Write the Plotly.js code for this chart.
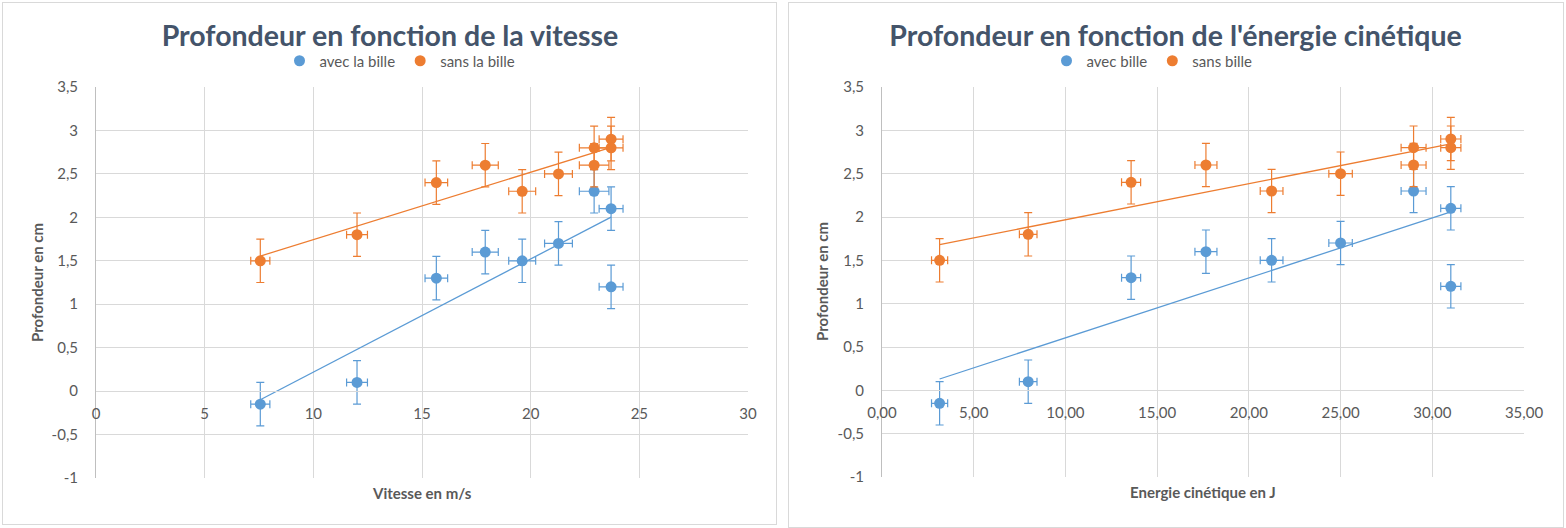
<!DOCTYPE html>
<html>
<head>
<meta charset="utf-8">
<script src="https://cdn.plot.ly/plotly-3.0.1.min.js"></script>
<style>
  html, body { margin: 0; padding: 0; background: #ffffff; width: 1566px; height: 528px; overflow: hidden; }
  .plot { position: absolute; top: 0; height: 528px; }
  .frame { position: absolute; border: 1px solid #d9d9d9; box-sizing: border-box; pointer-events: none; z-index: 5; }
</style>
</head>
<body>
<div id="chartV" class="plot" style="left:0px; width:780px;"></div>
<div id="chartE" class="plot" style="left:785px; width:781px;"></div>
<div class="frame" style="left:2px; top:2px; width:775px; height:523px;"></div>
<div class="frame" style="left:788px; top:2px; width:776px; height:526px;"></div>
<script>
// ---------- data ----------
const titleV = "Profondeur en fonction de la vitesse";
const titleE = "Profondeur en fonction de l'énergie cinétique";
const xTitleV = "Vitesse en m/s";
const xTitleE = "Energie cinétique en J";
const yTitle = "Profondeur en cm";
const namesV = ["avec la bille", "sans la bille"];
const namesE = ["avec bille", "sans bille"];

// vitesse (m/s)
const vitesseAvec = [7.56, 12.01, 15.66, 17.91, 19.61, 21.28, 22.92, 23.70, 23.70];
const vitesseSans = [7.56, 12.01, 15.66, 17.91, 19.61, 21.28, 22.92, 22.92, 23.70, 23.70];
// énergie cinétique (J)
const energieAvec = [3.14, 7.97, 13.58, 17.66, 21.24, 25.00, 28.98, 31.01, 31.01];
const energieSans = [3.14, 7.97, 13.58, 17.66, 21.24, 25.00, 28.98, 28.98, 31.01, 31.01];
// profondeur (cm)
const profAvec = [-0.15, 0.1, 1.3, 1.6, 1.5, 1.7, 2.3, 2.1, 1.2];
const profSans = [1.5, 1.8, 2.4, 2.6, 2.3, 2.5, 2.8, 2.6, 2.9, 2.8];
// incertitudes
const errXAvec = [0.44, 0.48, 0.52, 0.60, 0.62, 0.64, 0.68, 0.55, 0.55];
const errXSans = [0.44, 0.48, 0.52, 0.60, 0.62, 0.64, 0.68, 0.68, 0.55, 0.55];
const errYAvec = [0.25, 0.25, 0.25, 0.25, 0.25, 0.25, 0.25, 0.25, 0.25];
const errYSans = [0.25, 0.25, 0.25, 0.25, 0.25, 0.25, 0.25, 0.25, 0.25, 0.25];

// ticks
const yTickVals = [-1, -0.5, 0, 0.5, 1, 1.5, 2, 2.5, 3, 3.5];
const yTickText = ["-1", "-0,5", "0", "0,5", "1", "1,5", "2", "2,5", "3", "3,5"];
const xTickValsV = [0, 5, 10, 15, 20, 25, 30];
const xTickTextV = ["0", "5", "10", "15", "20", "25", "30"];
const xTickValsE = [0, 5, 10, 15, 20, 25, 30, 35];
const xTickTextE = ["0,00", "5,00", "10,00", "15,00", "20,00", "25,00", "30,00", "35,00"];

// ---------- styling ----------
const BLUE = "#5B9BD5";
const ORANGE = "#ED7D31";
const FONT = "Lato, 'Open Sans', 'DejaVu Sans', sans-serif";
const TXT = "#595959";

function linFit(xs, ys) {
  const n = xs.length;
  const mx = xs.reduce((a, b) => a + b, 0) / n;
  const my = ys.reduce((a, b) => a + b, 0) / n;
  let sxy = 0, sxx = 0;
  for (let i = 0; i < n; i++) { sxy += (xs[i] - mx) * (ys[i] - my); sxx += (xs[i] - mx) ** 2; }
  const a = sxy / sxx, b = my - a * mx;
  const x0 = Math.min(...xs), x1 = Math.max(...xs);
  return { x: [x0, x1], y: [a * x0 + b, a * x1 + b] };
}

function scatterTrace(xs, ys, ex, ey, name, color) {
  return {
    type: "scatter", mode: "markers", name: name, x: xs, y: ys,
    marker: { color: color, size: 11 },
    error_x: { type: "data", array: ex, visible: true, color: color, thickness: 1.2, width: 4 },
    error_y: { type: "data", array: ey, visible: true, color: color, thickness: 1.2, width: 4 },
    hoverinfo: "x+y"
  };
}
function trendTrace(xs, ys, color) {
  const f = linFit(xs, ys);
  return { type: "scatter", mode: "lines", x: f.x, y: f.y, showlegend: false,
           line: { color: color, width: 1.3 }, hoverinfo: "skip" };
}

function makeChart(id, cfg) {
  const traces = [
    trendTrace(cfg.xA, profAvec, BLUE),
    trendTrace(cfg.xS, profSans, ORANGE),
    scatterTrace(cfg.xA, profAvec, errXAvec, errYAvec, cfg.names[0], BLUE),
    scatterTrace(cfg.xS, profSans, errXSans, errYSans, cfg.names[1], ORANGE)
  ];
  const yZeroFrac = (0 - (-1)) / (3.5 - (-1));
  const layout = {
    width: cfg.width, height: 528,
    margin: cfg.margin,
    paper_bgcolor: "#ffffff", plot_bgcolor: "#ffffff",
    separators: ", ",
    font: { family: FONT, color: TXT, size: 15 },
    title: { text: "<b>" + cfg.title + "</b>", font: { family: FONT, size: 28.5, color: "#44546A" },
             x: 0.5, xanchor: "center", xref: "container", y: 1 - 36 / 528, yanchor: "middle", yref: "container" },
    showlegend: true,
    legend: { orientation: "h", x: cfg.legendX, xanchor: "center", xref: "container",
              y: 1 - 61 / 528, yanchor: "middle", yref: "container",
              font: { family: FONT, size: 15, color: TXT }, itemwidth: 30, traceorder: "normal",
              bgcolor: "rgba(0,0,0,0)" },
    xaxis: {
      range: cfg.xRange, tickvals: cfg.xTickVals, ticktext: cfg.xTickText,
      anchor: "free", position: yZeroFrac,
      showgrid: true, gridcolor: "#d9d9d9", gridwidth: 1,
      zeroline: false, showline: true, linecolor: "#d9d9d9", linewidth: 1,
      ticks: "outside", ticklen: 9, tickcolor: "rgba(0,0,0,0)",
      tickfont: { family: FONT, size: 15, color: TXT }, fixedrange: true
    },
    yaxis: {
      range: [-1, 3.5], tickvals: yTickVals, ticktext: yTickText, domain: [0, 1],
      showgrid: true, gridcolor: "#d9d9d9", gridwidth: 1,
      zeroline: false, showline: true, linecolor: "#bfbfbf", linewidth: 1,
      ticks: "outside", ticklen: 14, tickcolor: "rgba(0,0,0,0)",
      tickfont: { family: FONT, size: 15, color: TXT }, fixedrange: true
    },
    annotations: [
      { text: "<b>" + cfg.xTitle + "</b>", xref: "paper", yref: "paper", x: 0.5, y: 0,
        xanchor: "center", yanchor: "middle", yshift: -15, showarrow: false,
        font: { family: FONT, size: 15, color: TXT } },
      { text: "<b>" + yTitle + "</b>", xref: "paper", yref: "paper", x: 0, y: 0.5,
        xanchor: "center", yanchor: "middle", xshift: cfg.yTitleShift, textangle: -90, showarrow: false,
        font: { family: FONT, size: 15, color: TXT } }
    ]
  };
  Plotly.newPlot(id, traces, layout, { staticPlot: true, displayModeBar: false });
}

makeChart("chartV", {
  width: 780, title: titleV, xTitle: xTitleV, names: namesV,
  xA: vitesseAvec, xS: vitesseSans, xRange: [0, 30],
  xTickVals: xTickValsV, xTickText: xTickTextV,
  margin: { l: 95.5, r: 32, t: 87.3, b: 49.7, pad: 0 },
  legendX: 400 / 780, yTitleShift: -59.5
});
makeChart("chartE", {
  width: 781, title: titleE, xTitle: xTitleE, names: namesE,
  xA: energieAvec, xS: energieSans, xRange: [0, 35],
  xTickVals: xTickValsE, xTickText: xTickTextE,
  margin: { l: 96.7, r: 41.7, t: 87.3, b: 50.7, pad: 0 },
  legendX: (1152 - 785) / 781, yTitleShift: -60
});
</script>
</body>
</html>
